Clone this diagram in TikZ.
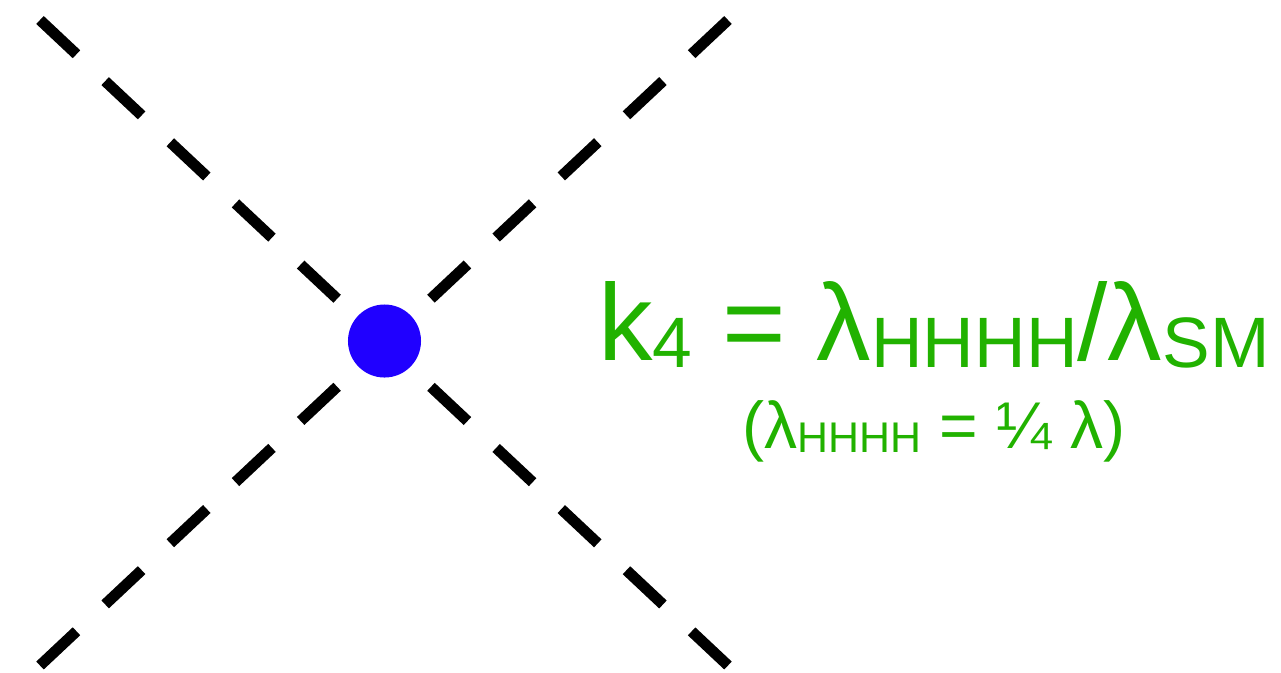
\documentclass[tikz,border=0pt]{standalone}
\usepackage{fontspec}
\setmainfont{Liberation Sans}
\usetikzlibrary{positioning}
\definecolor{vertexBlue}{HTML}{2000FF}
\definecolor{textGreen}{HTML}{21B200}
\definecolor{lineBlack}{HTML}{000000}
\newcommand{\bigsub}[1]{\raisebox{-2pt}{\fontsize{20.3pt}{22pt}\selectfont #1}}
\newcommand{\smallsub}[1]{\raisebox{-1.4pt}{\fontsize{12.2pt}{14pt}\selectfont #1}}
\tikzset{
  scalarline/.style={
    draw=lineBlack, line width=3.1pt, dash pattern=on 0.5cm off 0.393cm,
  },
  vertex/.style={
    circle, fill=vertexBlue, draw=none, minimum size=0.73cm, inner sep=0pt,
  },
  coupling/.style={
    text=textGreen, inner sep=0pt, font=\fontsize{31pt}{36pt}\selectfont,
  },
  couplingnote/.style={
    text=textGreen, inner sep=0pt, font=\fontsize{18.8pt}{22pt}\selectfont,
  },
}

\begin{document}
\begin{tikzpicture}[x=0.01cm, y=-0.01cm]

  \useasboundingbox (0,0) rectangle (1281,672);

  % === Legs of the quartic vertex ===
  \coordinate (legNW) at (40,20);
  \coordinate (legSE) at (728,665.5);
  \coordinate (legSW) at (40,665.5);
  \coordinate (legNE) at (728,20);

  \draw[scalarline] (legNW) -- (legSE);
  \draw[scalarline] (legSW) -- (legNE);

  % === Vertex ===
  \node[vertex] (vtx) at (384.5,341) {};

  % === Coupling labels ===
  \node[coupling, anchor=base] (kappa) at (934,360)
    {k\bigsub{4} = λ\bigsub{HHHH}/λ\bigsub{SM}};
  \node[couplingnote, anchor=base] (lamnote) at (934,448)
    {(λ\smallsub{HHHH} = ¼ λ)};

\end{tikzpicture}
\end{document}
